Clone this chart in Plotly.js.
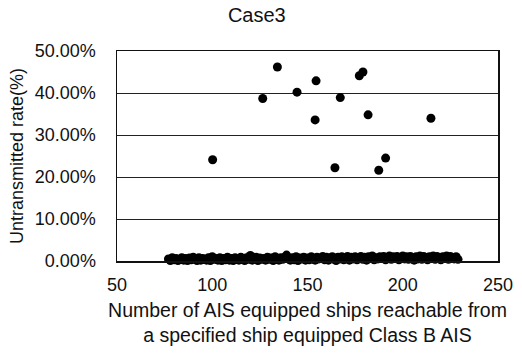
<!DOCTYPE html>
<html>
<head>
<meta charset="utf-8">
<script src="https://cdn.plot.ly/plotly-3.0.1.min.js"></script>
<style>html,body{margin:0;padding:0;background:#fff;}#chart{width:522px;height:363px;}</style>
</head>
<body>
<div id="chart"></div>
<script>
// Scattered high-loss cases (ships reachable, untransmitted rate)
const highX = [100.2, 126.5, 134.2, 144.5, 154.5, 154.0, 164.4, 167.2, 177.2, 179.1, 181.8, 187.4, 191.0, 214.8];
const highY = [0.241, 0.387, 0.462, 0.402, 0.429, 0.336, 0.222, 0.389, 0.441, 0.450, 0.348, 0.216, 0.245, 0.340];

// Dense cluster near zero
const lowX = [77,78,79,80,81,82,83,84,85,86,87,88,89,90,91,92,93,94,95,96,97,98,99,100,101,102,103,104,105,106,107,108,109,110,111,112,113,114,115,116,117,118,119,120,121,122,123,124,125,126,127,128,129,130,131,132,133,134,135,136,137,138,139,140,141,142,143,144,145,146,147,148,149,150,151,152,153,154,155,156,157,158,159,160,161,162,163,164,165,166,167,168,169,170,171,172,173,174,175,176,177,178,179,180,181,182,183,184,185,186,187,188,189,190,191,192,193,194,195,196,197,198,199,200,201,202,203,204,205,206,207,208,209,210,211,212,213,214,215,216,217,218,219,220,221,222,223,224,225,226,227,228,229];
const lowY = [0.005,0.001,0.008,0.003,0.006,0.001,0.004,0.008,0.002,0.006,
  0.001,0.007,0.003,0.009,0.004,0.001,0.008,0.002,0.006,0.004,
  0.002,0.008,0.001,0.010,0.004,0.006,0.002,0.008,0.001,0.006,
  0.003,0.009,0.002,0.006,0.001,0.008,0.004,0.002,0.009,0.005,
  0.001,0.008,0.004,0.013,0.002,0.006,0.009,0.001,0.007,0.004,
  0.006,0.002,0.009,0.004,0.007,0.001,0.010,0.005,0.002,0.008,
  0.004,0.009,0.014,0.005,0.002,0.008,0.003,0.010,0.001,0.007,
  0.005,0.009,0.002,0.007,0.003,0.010,0.005,0.002,0.009,0.005,
  0.006,0.011,0.003,0.009,0.002,0.007,0.010,0.004,0.001,0.009,
  0.005,0.010,0.003,0.007,0.011,0.002,0.009,0.005,0.010,0.003,
  0.006,0.011,0.004,0.009,0.002,0.010,0.006,0.012,0.003,0.008,
  0.005,0.010,0.006,0.011,0.003,0.008,0.012,0.004,0.010,0.006,
  0.011,0.003,0.008,0.012,0.005,0.010,0.004,0.011,0.007,0.002,
  0.010,0.005,0.012,0.004,0.011,0.007,0.003,0.010,0.006,0.012,
  0.004,0.011,0.007,0.003,0.010,0.006,0.012,0.004,0.011,0.007,
  0.005,0.010,0.004];

const xTicks = [50, 100, 150, 200, 250];
const yTicks = [0, 0.1, 0.2, 0.3, 0.4, 0.5];

const allX = lowX.concat(highX);
const allY = lowY.concat(highY);

const FONT = 'Liberation Sans, Arial, sans-serif';

const data = [{
  type: 'scatter',
  mode: 'markers',
  x: allX,
  y: allY,
  cliponaxis: false,
  marker: {color: '#000', size: 9, line: {width: 0}},
  hoverinfo: 'x+y'
}];

const layout = {
  width: 522,
  height: 363,
  margin: {l: 117, r: 24, t: 51, b: 102},
  paper_bgcolor: '#fff',
  plot_bgcolor: '#fff',
  showlegend: false,
  font: {family: FONT, color: '#111'},
  title: {
    text: 'Case3',
    font: {family: FONT, size: 20, color: '#111'},
    xref: 'container', x: 0.492, xanchor: 'center',
    yref: 'container', y: 0.958, yanchor: 'middle'
  },
  xaxis: {
    range: [50, 250],
    tickvals: xTicks,
    ticktext: xTicks.map(String),
    showgrid: false,
    zeroline: false,
    showline: true,
    mirror: true,
    linecolor: '#111',
    linewidth: 1.5,
    ticks: '',
    ticklabelstandoff: 7,
    tickfont: {family: FONT, size: 18, color: '#111'},
    title: {
      text: 'Number of AIS equipped ships reachable from<br>a specified ship equipped Class B AIS',
      font: {family: FONT, size: 19.5, color: '#111'},
      standoff: 9
    },
    automargin: false
  },
  yaxis: {
    range: [0, 0.5],
    tickvals: yTicks,
    tickformat: '.2%',
    showgrid: true,
    gridcolor: '#222',
    gridwidth: 1,
    zeroline: false,
    showline: true,
    mirror: true,
    linecolor: '#111',
    linewidth: 1.5,
    ticks: '',
    ticklabelstandoff: 16,
    tickfont: {family: FONT, size: 18, color: '#111'},
    title: {
      text: 'Untransmitted rate(%)',
      font: {family: FONT, size: 18, color: '#111'},
      standoff: 6
    },
    automargin: false
  }
};

Plotly.newPlot('chart', data, layout, {displayModeBar: false, staticPlot: true});
</script>
</body>
</html>
